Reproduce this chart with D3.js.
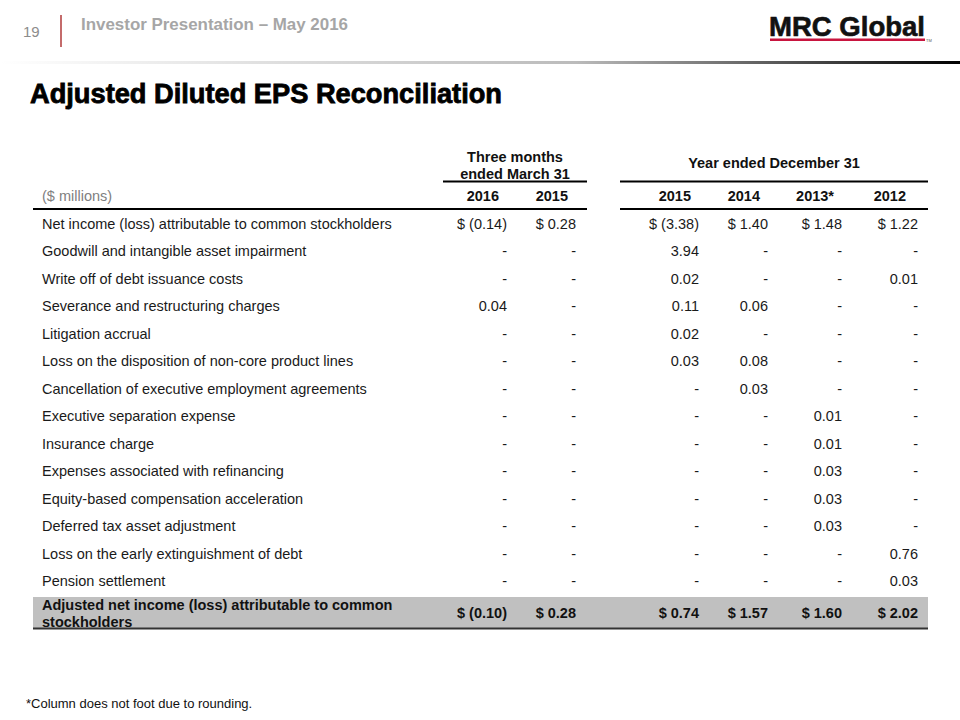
<!DOCTYPE html>
<html lang="en">
<head>
    <meta charset="UTF-8">
    <title>Adjusted Diluted EPS Reconciliation</title>
    <script src="https://d3js.org/d3.v7.min.js"></script>
    <style>
        body { margin: 0; background: #fff; }
        text { font-family: "Liberation Sans", Arial, sans-serif; }
    </style>
</head>
<body>
    <script>
        // Table data ($ per diluted share); null = "-"
        const rowLabels = [
            "Net income (loss) attributable to common stockholders",
            "Goodwill and intangible asset impairment",
            "Write off of debt issuance costs",
            "Severance and restructuring charges",
            "Litigation accrual",
            "Loss on the disposition of non-core product lines",
            "Cancellation of executive employment agreements",
            "Executive separation expense",
            "Insurance charge",
            "Expenses associated with refinancing",
            "Equity-based compensation acceleration",
            "Deferred tax asset adjustment",
            "Loss on the early extinguishment of debt",
            "Pension settlement"
        ];
        const columns = ["q2016", "q2015", "y2015", "y2014", "y2013", "y2012"];
        const columnHeaders = ["2016", "2015", "2015", "2014", "2013*", "2012"];
        const q2016 = [-0.14, null, null, 0.04, null, null, null, null, null, null, null, null, null, null];
        const q2015 = [0.28, null, null, null, null, null, null, null, null, null, null, null, null, null];
        const y2015 = [-3.38, 3.94, 0.02, 0.11, 0.02, 0.03, null, null, null, null, null, null, null, null];
        const y2014 = [1.40, null, null, 0.06, null, 0.08, 0.03, null, null, null, null, null, null, null];
        const y2013 = [1.48, null, null, null, null, null, null, 0.01, 0.01, 0.03, 0.03, 0.03, null, null];
        const y2012 = [1.22, null, 0.01, null, null, null, null, null, null, null, null, null, 0.76, 0.03];
        const totalLabel = ["Adjusted net income (loss) attributable to common", "stockholders"];
        const totals = [-0.10, 0.28, 0.74, 1.57, 1.60, 2.02];
        const series = [q2016, q2015, y2015, y2014, y2013, y2012];

        const width = 960, height = 720;
        const svg = d3.select("body").append("svg")
            .attr("width", width)
            .attr("height", height);

        const fmt = (v, dollar) => {
            if (v == null) return "-";
            const s = v < 0 ? "(" + d3.format(".2f")(-v) + ")" : d3.format(".2f")(v);
            return dollar ? "$ " + s : s;
        };

        // ---- slide header ----
        const grad = svg.append("defs").append("linearGradient").attr("id", "hdr");
        grad.append("stop").attr("offset", "0%").attr("stop-color", "#fff");
        grad.append("stop").attr("offset", "60%").attr("stop-color", "#bbb");
        grad.append("stop").attr("offset", "100%").attr("stop-color", "#000");
        svg.append("rect").attr("x", 0).attr("y", 61).attr("width", 960).attr("height", 3)
            .attr("fill", "url(#hdr)");

        svg.append("text").attr("x", 23).attr("y", 37)
            .attr("font-size", 15).attr("fill", "#8c8c8c").text("19");
        svg.append("line").attr("x1", 61).attr("x2", 61).attr("y1", 15).attr("y2", 47)
            .attr("stroke", "#b03a3a").attr("stroke-width", 1.5);
        svg.append("text").attr("x", 81).attr("y", 30)
            .attr("font-size", 16.5).attr("font-weight", "bold").attr("fill", "#a6a6a6")
            .attr("textLength", 267).attr("lengthAdjust", "spacingAndGlyphs")
            .text("Investor Presentation \u2013 May 2016");

        // logo
        svg.append("text").attr("x", 769).attr("y", 36)
            .attr("font-size", 27).attr("font-weight", "bold").attr("fill", "#111")
            .attr("stroke", "#111").attr("stroke-width", 0.6)
            .attr("textLength", 156).attr("lengthAdjust", "spacingAndGlyphs")
            .text("MRC Global");
        svg.append("rect").attr("x", 770).attr("y", 38.5).attr("width", 155).attr("height", 2.5)
            .attr("fill", "#c8153f");
        svg.append("text").attr("x", 926).attr("y", 42)
            .attr("font-size", 4).attr("fill", "#555").text("TM");

        // title
        svg.append("text").attr("x", 30).attr("y", 103)
            .attr("font-size", 27).attr("font-weight", "bold").attr("fill", "#000")
            .attr("stroke", "#000").attr("stroke-width", 0.8)
            .attr("textLength", 472).attr("lengthAdjust", "spacingAndGlyphs")
            .text("Adjusted Diluted EPS Reconciliation");

        // ---- table ----
        const fs = 14.5;
        const x = d3.scaleOrdinal().domain(columns).range([507, 576, 699, 768, 842, 918]);
        const y = d3.scaleBand().domain(d3.range(rowLabels.length)).range([210, 595]);

        // group headers
        const groups = [
            { lines: ["Three months", "ended March 31"], x0: 443, x1: 587 },
            { lines: ["Year ended December 31"], x0: 620, x1: 928 }
        ];
        groups.forEach(g => {
            const cx = (g.x0 + g.x1) / 2;
            const y0 = g.lines.length === 2 ? 157 : 163;
            g.lines.forEach((t, i) => {
                svg.append("text").attr("x", cx).attr("y", y0 + i * 17).attr("dy", "0.35em")
                    .attr("text-anchor", "middle").attr("font-size", fs).attr("font-weight", "bold")
                    .attr("fill", "#111").text(t);
            });
            svg.append("line").attr("x1", g.x0).attr("x2", g.x1).attr("y1", 181.5).attr("y2", 181.5)
                .attr("stroke", "#000").attr("stroke-width", 2);
            svg.append("line").attr("x1", g === groups[0] ? 33 : g.x0).attr("x2", g.x1)
                .attr("y1", 209).attr("y2", 209)
                .attr("stroke", "#000").attr("stroke-width", 2.2);
        });

        svg.append("text").attr("x", 42).attr("y", 196).attr("dy", "0.35em")
            .attr("font-size", fs).attr("fill", "#808080").text("($ millions)");
        svg.selectAll(".colhead").data(columns).enter().append("text")
            .attr("class", "colhead")
            .attr("x", (d, i) => x(d) - (i === 5 ? 12 : 8)).attr("y", 196).attr("dy", "0.35em")
            .attr("text-anchor", "end").attr("font-size", fs).attr("font-weight", "bold")
            .attr("fill", "#111").text((d, i) => columnHeaders[i]);

        // body rows
        const rows = svg.selectAll(".row").data(rowLabels).enter().append("g")
            .attr("class", "row")
            .attr("transform", (d, i) => `translate(0,${y(i) + y.bandwidth() / 2})`);
        rows.append("text").attr("x", 42).attr("dy", "0.35em")
            .attr("font-size", fs).attr("fill", "#1a1a1a").text(d => d);
        columns.forEach((c, ci) => {
            rows.append("text").attr("x", x(c)).attr("dy", "0.35em")
                .attr("text-anchor", "end").attr("font-size", fs).attr("fill", "#1a1a1a")
                .text((d, i) => fmt(series[ci][i], i === 0));
        });

        // total row
        svg.append("rect").attr("x", 33).attr("y", 597).attr("width", 895).attr("height", 31)
            .attr("fill", "#c0c0c0");
        svg.append("line").attr("x1", 33).attr("x2", 928).attr("y1", 628.5).attr("y2", 628.5)
            .attr("stroke", "#333").attr("stroke-width", 2);
        totalLabel.forEach((t, i) => {
            svg.append("text").attr("x", 42).attr("y", 605 + i * 17).attr("dy", "0.35em")
                .attr("font-size", fs).attr("font-weight", "bold").attr("fill", "#111").text(t);
        });
        svg.selectAll(".tot").data(totals).enter().append("text")
            .attr("class", "tot")
            .attr("x", (d, i) => x(columns[i])).attr("y", 613).attr("dy", "0.35em")
            .attr("text-anchor", "end").attr("font-size", fs).attr("font-weight", "bold")
            .attr("fill", "#111").text(d => fmt(d, true));

        // footnote
        svg.append("text").attr("x", 26).attr("y", 703).attr("dy", "0.35em")
            .attr("font-size", 13).attr("fill", "#111").text("*Column does not foot due to rounding.");
    </script>
</body>
</html>
